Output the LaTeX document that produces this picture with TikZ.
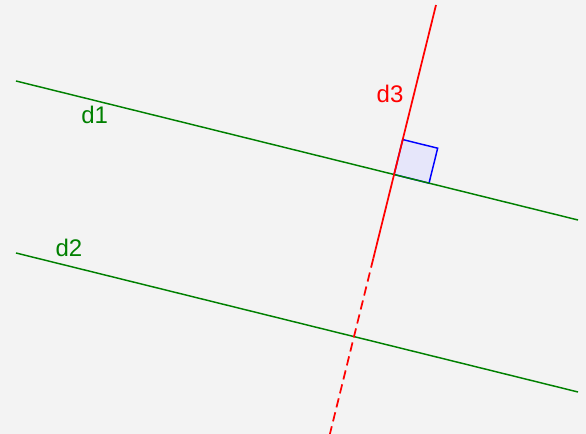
\documentclass[tikz,border=0pt]{standalone}
\usepackage{fontspec}
\setmainfont{Liberation Sans}
\usetikzlibrary{calc}
\definecolor{bg}{HTML}{F3F3F3}
\definecolor{lgreen}{HTML}{008000}
\definecolor{sqfill}{HTML}{E6E6FA}
\tikzset{
  gline/.style={draw=lgreen, line width=1.1pt},
  rline/.style={draw=red, line width=1.3pt},
  rdash/.style={rline, dash pattern=on 7pt off 3.8pt},
  sq/.style={draw=blue, fill=sqfill, line width=1.1pt},
  lbl/.style={font=\fontsize{18}{18}\selectfont, anchor=base, inner sep=0pt},
}
\begin{document}
\begin{tikzpicture}[x=0.75pt,y=-0.75pt]
\fill[bg] (0,0) rectangle (586,434);
\useasboundingbox (0,0) rectangle (586,434);
% lines
\coordinate (a1) at (16,81);
\coordinate (b1) at (578,220);
\coordinate (a2) at (16,253);
\coordinate (b2) at (578,392);
\coordinate (t3) at (436,5);
\coordinate (e3) at (329.9,434);
\coordinate (I) at (intersection of a1--b1 and t3--e3);
\coordinate (m3) at ($(t3)!0.591!(e3)$);
% right angle square
\coordinate (q3) at ($(I)!27pt!(b1)$);
\coordinate (q1) at ($(I)!27pt!(t3)$);
\coordinate (q2) at ($(q1)+(q3)-(I)$);
\draw[sq] (I) -- (q1) -- (q2) -- (q3) -- cycle;
\draw[gline] (a1) -- (b1);
\draw[gline] (a2) -- (b2);
\draw[rline] (t3) -- (m3);
\draw[rdash] (m3) -- (e3);
% labels
\node[lbl, text=lgreen] (l1) at (94.7,123.3) {d1};
\node[lbl, text=lgreen] (l2) at (69,257) {d2};
\node[lbl, text=red] (l3) at (390,103) {d3};
\end{tikzpicture}
\end{document}
